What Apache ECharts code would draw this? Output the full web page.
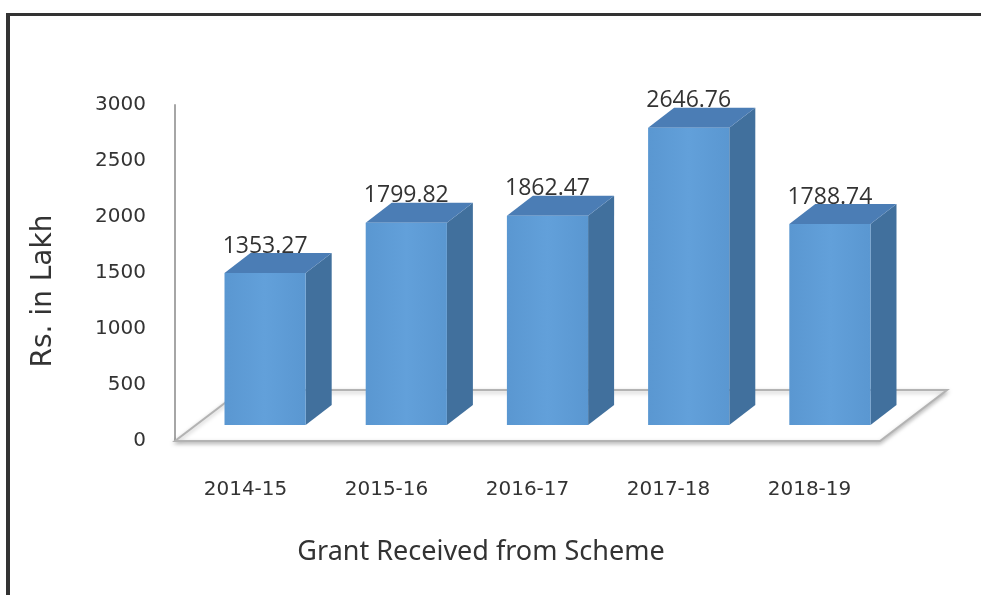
<!DOCTYPE html>
<html>
<head>
<meta charset="utf-8">
<script src="https://cdn.jsdelivr.net/npm/echarts@6/dist/echarts.min.js"></script>
<style>
html,body{margin:0;padding:0;background:#fff;}
#frame{position:absolute;left:6px;top:13px;width:990px;height:600px;border-left:4px solid #333;border-top:3px solid #333;box-sizing:border-box;}
#chart{position:absolute;left:0;top:0;width:981px;height:595px;}
</style>
</head>
<body>
<div id="frame"></div>
<div id="chart"></div>
<script>
const categories = ['2014-15', '2015-16', '2016-17', '2017-18', '2018-19'];
const values = [1353.27, 1799.82, 1862.47, 2646.76, 1788.74];
const yTicks = { min: 0, max: 3000, interval: 500 };
const yAxisTitle = 'Rs. in Lakh';
const xAxisTitle = 'Grant Received from Scheme';

const chart = echarts.init(document.getElementById('chart'), null, { renderer: 'canvas' });

const DX = 26, DY = -20;      // bar depth offset
const FDX = 67, FDY = -51;     // floor depth offset

const option = {
  backgroundColor: 'transparent',
  animation: false,
  grid: [
    { left: 175, top: 105, width: 705, height: 336 },
    { left: 194.5, top: 88, width: 706, height: 337 }
  ],
  xAxis: [
    {
      gridIndex: 0, type: 'category', data: categories,
      axisLine: { show: false }, axisTick: { show: false },
      axisLabel: { margin: 39, fontFamily: 'DejaVu Sans', fontSize: 20, color: '#333' }
    },
    {
      gridIndex: 1, type: 'category', data: categories, show: false
    }
  ],
  yAxis: [
    {
      gridIndex: 0, type: 'value', min: yTicks.min, max: yTicks.max, interval: yTicks.interval,
      axisLine: { show: true, lineStyle: { color: '#a6a6a6', width: 2 } },
      axisTick: { show: false }, splitLine: { show: false },
      axisLabel: { margin: 29, fontFamily: 'DejaVu Sans', fontSize: 20, color: '#333',
        formatter: function (v) { return String(v); } }
    },
    {
      gridIndex: 1, type: 'value', min: yTicks.min, max: yTicks.max, show: false, splitLine: { show: false }
    }
  ],
  graphic: [
    {
      type: 'text',
      style: { text: yAxisTitle, font: '28px "DejaVu Sans"', fill: '#333', align: 'center', verticalAlign: 'middle' },
      rotation: Math.PI / 2, x: 44, y: 291
    },
    {
      type: 'text',
      style: { text: xAxisTitle, font: '27px "Noto Sans"', fill: '#333', align: 'center', verticalAlign: 'middle' },
      x: 481, y: 552
    }
  ],
  series: [
    {
      type: 'custom', xAxisIndex: 0, yAxisIndex: 0,
      data: [[0, 0]],
      z: 1,
      renderItem: function (params, api) {
        const cs = params.coordSys;
        const fl = [cs.x, cs.y + cs.height];
        const fr = [cs.x + cs.width, cs.y + cs.height];
        const br = [fr[0] + FDX, fr[1] + FDY];
        const bl = [fl[0] + FDX, fl[1] + FDY];
        return {
          type: 'group',
          children: [
            {
              type: 'polygon',
              shape: { points: [fl, fr, br, bl] },
              style: { fill: '#fff', stroke: '#b3b3b3', lineWidth: 2, shadowColor: 'rgba(0,0,0,0.25)', shadowBlur: 4, shadowOffsetY: 2 }
            }
          ]
        };
      }
    },
    {
      type: 'custom', xAxisIndex: 1, yAxisIndex: 1,
      data: values.map((v, i) => [i, v]),
      z: 5,
      renderItem: function (params, api) {
        const i = api.value(0), v = api.value(1);
        const top = api.coord([i, v]);
        const base = api.coord([i, 0]);
        const w = api.size([1, 0])[0] * 0.575;
        const x0 = top[0] - w / 2, x1 = top[0] + w / 2;
        const y0 = top[1], y1 = base[1];
        return {
          type: 'group',
          children: [
            {
              type: 'polygon',
              shape: { points: [[x1, y0], [x1 + DX, y0 + DY], [x1 + DX, y1 + DY], [x1, y1]] },
              style: { fill: '#41709d' }
            },
            {
              type: 'polygon',
              shape: { points: [[x0, y0], [x0 + DX, y0 + DY], [x1 + DX, y0 + DY], [x1, y0]] },
              style: { fill: '#4b7db5' }
            },
            {
              type: 'rect',
              shape: { x: x0, y: y0, width: w, height: y1 - y0 },
              style: {
                fill: new echarts.graphic.LinearGradient(0, 0, 1, 0, [
                  { offset: 0, color: '#5a97d1' },
                  { offset: 0.5, color: '#62a0da' },
                  { offset: 1, color: '#5a97d1' }
                ])
              }
            },
            {
              type: 'text',
              x: top[0], y: y0 - 27,
              style: {
                text: v.toFixed(2), font: '23px "Open Sans"', fill: '#333',
                align: 'center', verticalAlign: 'middle'
              }
            }
          ]
        };
      }
    }
  ]
};

chart.setOption(option);
</script>
</body>
</html>
